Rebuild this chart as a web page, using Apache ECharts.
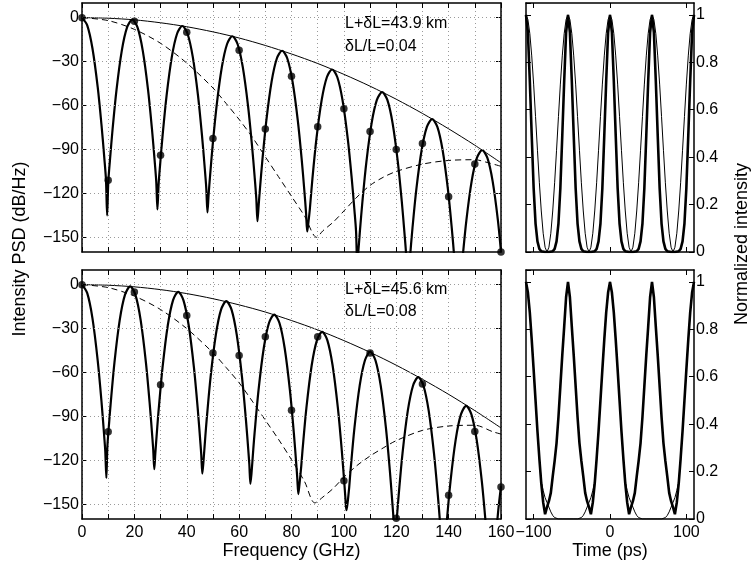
<!DOCTYPE html>
<html><head><meta charset="utf-8">
<script src="https://cdn.jsdelivr.net/npm/echarts@6/dist/echarts.min.js"></script>
<style>html,body{margin:0;padding:0;background:#fff}#c{width:751px;height:566px}</style>
</head><body><div id="c"></div>
<script>
// ---------------- data ----------------
const dbTicks = [-150, -120, -90, -60, -30, 0];
const timeTicks = [-100, 0, 100];

const dotFreq = [0,10,20,30,40,50,60,70,80,90,100,110,120,130,140,150,160];
const topDots = [0,-111,-2.4,-94,-10,-82.5,-22.3,-76,-40,-74.5,-62.2,-77.8,-90,-86,-122.3,-100,-160];
const bottomDots = [0,-100.5,-5,-68.3,-21.1,-46.7,-48.3,-35.6,-85.8,-35.6,-133.9,-46.6,-159.5,-67.8,-143.7,-100.3,-138.2];

const envFreq = [0,10,20,30,40,50,60,70,80,90,100,110,120,130,140,150,160];
const topEnvelope = [0,-0.4,-1.5,-3.5,-6.2,-9.7,-13.9,-19,-24.8,-31.3,-38.7,-46.8,-55.7,-65.4,-75.9,-87.1,-99.1];
const bottomEnvelope = [0,-0.4,-1.5,-3.4,-6.1,-9.6,-13.8,-18.7,-24.5,-30.9,-38.2,-46.2,-55,-64.6,-74.9,-86,-97.8];

const topDashed = [[0,0],[10,-2],[20,-8],[30,-17.5],[40,-31],[50,-48],[55,-58.5],[60,-69.5],[65,-81.5],[70,-95],[75,-108.5],[80,-122],[85,-135.5],[89.6,-150],[92,-145.5],[96,-139.5],[100,-132],[105,-122.5],[110,-114.5],[115,-109],[120,-105],[130,-100],[140,-97.5],[150,-97],[155,-99],[160,-101.5]];
const bottomDashed = [[0,0],[10,-2],[20,-7.8],[30,-17],[40,-30],[50,-46.5],[55,-56.5],[60,-67],[65,-79.5],[70,-92.5],[75,-105.5],[80,-119.5],[85,-134.5],[88.9,-149],[92,-145],[96,-139],[100,-131.5],[105,-123.5],[110,-117],[115,-111.5],[120,-106.5],[130,-99.5],[140,-96.5],[150,-96],[157,-100.5],[160,-102]];

const topSpectrum = [
[0,0],[2,-5.3],[4,-21.1],[6,-47.5],[7.5,-74.3],[8.5,-95.4],[9.15,-110.5],[9.6,-135],
[10.05,-111.9],[10.7,-96.8],[11.7,-75.7],[13.2,-48.9],[15.2,-22.5],[17.2,-6.7],[19.2,-1.4],[21.2,-6.7],[23.2,-22.5],[25.2,-48.9],[26.7,-75.7],[27.7,-96.8],[28.35,-111.9],[28.8,-131],
[29.25,-113.8],[29.8,-101.1],[30.8,-80],[32.3,-53.2],[34.3,-26.8],[36.3,-11],[38.3,-5.7],[40.3,-11],[42.3,-26.8],[44.3,-53.2],[45.8,-80],[46.8,-101.1],[47.45,-116.2],[47.9,-133],
[48.35,-120.8],[48.9,-108.1],[49.9,-87],[51.4,-60.2],[53.4,-33.8],[55.4,-18],[57.4,-12.7],[59.4,-18],[61.4,-33.8],[63.4,-60.2],[64.9,-87],[65.9,-108.1],[66.55,-123.2],[67,-139],
[67.45,-128.3],[67.9,-118],[68.9,-96.9],[70.4,-70.1],[72.4,-43.7],[74.4,-27.9],[76.4,-22.6],[78.4,-27.9],[80.4,-43.7],[82.4,-70.1],[83.9,-96.9],[84.9,-118],[85.55,-133.1],[86,-146],
[86.45,-140],[87,-130.8],[88,-109.7],[89.5,-82.9],[91.5,-56.5],[93.5,-40.7],[95.5,-35.4],[97.5,-40.7],[99.5,-56.5],[101.5,-82.9],[103,-109.7],[104,-130.8],[104.65,-145.9],[105.1,-168],
[105.55,-159],[106.1,-146.3],[107.1,-125.2],[108.6,-98.4],[110.6,-72],[112.6,-56.2],[114.6,-50.9],[116.6,-56.2],[118.6,-72],[120.6,-98.4],[122.1,-125.2],[123.1,-146.3],[123.75,-161.4],[124.2,-185],
[124.65,-177.4],[125.2,-164.7],[126.2,-143.6],[127.7,-116.8],[129.7,-90.4],[131.7,-74.6],[133.7,-69.3],[135.7,-74.6],[137.7,-90.4],[139.7,-116.8],[141.2,-143.6],[142.2,-164.7],[142.85,-179.8],[143.3,-200],
[143.75,-198.6],[144.3,-185.9],[145.3,-164.8],[146.8,-138],[148.8,-111.6],[150.8,-95.8],[152.8,-90.5],[154.8,-95.8],[156.8,-111.6],[158.8,-138],[160,-160]
];

const bottomSpectrum = [
[0,0],[2,-5.8],[4,-23],[6,-51.8],[7.5,-81],[8.5,-104],[8.9,-114.1],[9.3,-132],
[9.7,-110.2],[10.4,-93.4],[10.9,-82.2],[12.4,-53],[14.4,-24.2],[16.4,-7],[18.4,-1.2],[20.4,-7],[22.4,-24.2],[24.4,-53],[25.9,-82.2],[26.9,-105.2],[27.2,-112.7],[27.6,-126],
[28,-115.2],[28.75,-97.1],[29.25,-85.9],[30.75,-56.7],[32.75,-27.9],[34.75,-10.7],[36.75,-4.9],[38.75,-10.7],[40.75,-27.9],[42.75,-56.7],[44.25,-85.9],[45.25,-108.9],[45.55,-116.4],[45.95,-129],
[46.35,-121.5],[47.1,-103.5],[47.6,-92.3],[49.1,-63.1],[51.1,-34.3],[53.1,-17.1],[55.1,-11.3],[57.1,-17.1],[59.1,-34.3],[61.1,-63.1],[62.6,-92.3],[63.6,-115.3],[63.9,-122.8],[64.3,-136],
[64.7,-129.4],[65.4,-112.6],[65.9,-101.4],[67.4,-72.2],[69.4,-43.4],[71.4,-26.2],[73.4,-20.4],[75.4,-26.2],[77.4,-43.4],[79.4,-72.2],[80.9,-101.4],[81.9,-124.4],[82.2,-131.9],[82.6,-143],
[83,-137],[83.7,-124.4],[84.2,-113.2],[85.7,-84],[87.7,-55.2],[89.7,-38],[91.7,-32.2],[93.7,-38],[95.7,-55.2],[97.7,-84],[99.2,-113.2],[100.2,-136.2],[100.55,-145],[100.95,-154],
[101.35,-150],[102.05,-138],[102.55,-126.8],[104.05,-97.6],[106.05,-68.8],[108.05,-51.6],[110.05,-45.8],[112.05,-51.6],[114.05,-68.8],[116.05,-97.6],[117.55,-126.8],[118.55,-149.8],[118.9,-158.6],[119.3,-175],
[119.7,-172.2],[120.4,-155.4],[120.9,-144.2],[122.4,-115],[124.4,-86.2],[126.4,-69],[128.4,-63.2],[130.4,-69],[132.4,-86.2],[134.4,-115],[135.9,-144.2],[136.9,-167.2],[137.6,-190],
[138.2,-186.8],[139.2,-163.8],[140.7,-134.6],[142.7,-105.8],[144.7,-88.6],[146.7,-82.8],[148.7,-88.6],[150.7,-105.8],[152.7,-134.6],[154.2,-163.8],[155.2,-186.8],[155.9,-200],
[156.6,-203],[157.5,-182.5],[159,-153.3],[160,-137.5]
];

const timePs = [-110,-107.5,-105,-102.5,-100,-97.5,-95,-92.5,-90,-87.5,-85,-82.5,-80,-77.5,-75,-72.5,-70,-67.5,-65,-62.5,-60,-57.5,-55,-52.5,-50,-47.5,-45,-42.5,-40,-37.5,-35,-32.5,-30,-27.5,-25,-22.5,-20,-17.5,-15,-12.5,-10,-7.5,-5,-2.5,0,2.5,5,7.5,10,12.5,15,17.5,20,22.5,25,27.5,30,32.5,35,37.5,40,42.5,45,47.5,50,52.5,55,57.5,60,62.5,65,67.5,70,72.5,75,77.5,80,82.5,85,87.5,90,92.5,95,97.5,100,102.5,105,107.5,110];

const topPulseThick = [
1,.925,.72,.49,.27,.12,.045,.013,.003,0,0,0,0,0,.003,.013,.045,.12,.27,.49,.72,.925,
1,.925,.72,.49,.27,.12,.045,.013,.003,0,0,0,0,0,.003,.013,.045,.12,.27,.49,.72,.925,
1,.925,.72,.49,.27,.12,.045,.013,.003,0,0,0,0,0,.003,.013,.045,.12,.27,.49,.72,.925,
1,.925,.72,.49,.27,.12,.045,.013,.003,0,0,0,0,0,.003,.013,.045,.12,.27,.49,.72,.925,
1];
const topPulseThin = [
1,.98,.921,.827,.708,.571,.429,.292,.173,.079,.02,0,.02,.079,.173,.292,.429,.571,.708,.827,.921,.98,
1,.98,.921,.827,.708,.571,.429,.292,.173,.079,.02,0,.02,.079,.173,.292,.429,.571,.708,.827,.921,.98,
1,.98,.921,.827,.708,.571,.429,.292,.173,.079,.02,0,.02,.079,.173,.292,.429,.571,.708,.827,.921,.98,
1,.98,.921,.827,.708,.571,.429,.292,.173,.079,.02,0,.02,.079,.173,.292,.429,.571,.708,.827,.921,.98,
1];
const bottomPulseThick = [
1,.955,.87,.755,.63,.50,.37,.255,.15,.07,.02,.05,.075,.11,.18,.245,.32,.43,.56,.69,.81,.935,
1,.935,.81,.69,.56,.43,.32,.245,.18,.11,.075,.05,.02,.07,.15,.255,.37,.50,.63,.755,.87,.955,
1,.955,.87,.755,.63,.50,.37,.255,.15,.07,.02,.05,.075,.11,.18,.245,.32,.43,.56,.69,.81,.935,
1,.935,.81,.69,.56,.43,.32,.245,.18,.11,.075,.05,.02,.07,.15,.255,.37,.50,.63,.755,.87,.955,
1];
const bottomPulseThin = [
1,.955,.87,.755,.63,.50,.37,.255,.16,.12,.09,.07,.05,.03,.015,.006,.001,0,0,0,0,0,
0,0,0,0,0,0,.001,.006,.015,.03,.05,.07,.09,.12,.16,.255,.37,.50,.63,.755,.87,.955,
1,.955,.87,.755,.63,.50,.37,.255,.16,.12,.09,.07,.05,.03,.015,.006,.001,0,0,0,0,0,
0,0,0,0,0,0,.001,.006,.015,.03,.05,.07,.09,.12,.16,.255,.37,.50,.63,.755,.87,.955,
1];

const annotTop = ['L+\u03b4L=43.9 km', '\u03b4L/L=0.04'];
const annotBottom = ['L+\u03b4L=45.6 km', '\u03b4L/L=0.08'];

// ---------------- chart ----------------
const FONT = "'Liberation Sans', Arial, Helvetica, sans-serif";
const K = '#000';
const minus = v => (v < 0 ? '\u2212' + Math.abs(v) : String(v));
const axLine = {show: true, onZero: false, lineStyle: {color: K, width: 1.5}};
const tickStyle = {color: K, width: 1};
const lbl = (show, margin, extra) => Object.assign({show, margin, color: K, fontSize: 16, fontFamily: FONT}, extra || {});

function freqX(g, pos, labels) {
  return {gridIndex: g, type: 'value', position: pos, min: 0, max: 160, interval: 10,
    axisLine: axLine, axisTick: {show: true, inside: true, length: 5, lineStyle: tickStyle},
    axisLabel: lbl(labels, 6, {formatter: v => (v % 20 === 0 ? String(v) : '')}),
    splitLine: {show: pos === 'bottom', lineStyle: {color: '#9a9a9a', type: [1, 3], width: 1}}};
}
function dbY(g, pos, labels) {
  return {gridIndex: g, type: 'value', position: pos, min: -160, max: 10,
    axisLine: axLine, axisTick: {show: true, inside: true, length: 5, customValues: dbTicks, lineStyle: tickStyle},
    axisLabel: lbl(labels, 3, {customValues: dbTicks, formatter: minus}), splitLine: {show: false}};
}
function timeX(g, pos, labels) {
  return {gridIndex: g, type: 'value', position: pos, min: -110, max: 110,
    axisLine: axLine, axisTick: {show: true, inside: true, length: 5, customValues: timeTicks, lineStyle: tickStyle},
    axisLabel: lbl(labels, 6, {customValues: timeTicks, formatter: minus}), splitLine: {show: false}};
}
function normY(g, pos, labels) {
  return {gridIndex: g, type: 'value', position: pos, min: 0, max: 1.05, interval: 0.2,
    axisLine: axLine, axisTick: {show: true, inside: true, length: 5, lineStyle: tickStyle},
    axisLabel: lbl(labels, 2, {formatter: v => String(Math.round(v * 10) / 10)}), splitLine: {show: false}};
}

const gridBase = {containLabel: false, outerBoundsMode: 'none', show: false};
const grids = [
  Object.assign({left: 82, top: 3, width: 419, height: 249}, gridBase),
  Object.assign({left: 526, top: 3, width: 168, height: 249}, gridBase),
  Object.assign({left: 82, top: 270, width: 419, height: 249}, gridBase),
  Object.assign({left: 526, top: 270, width: 168, height: 249}, gridBase)
];

const xAxes = [freqX(0,'bottom',false), freqX(0,'top',false), timeX(1,'bottom',false), timeX(1,'top',false),
               freqX(2,'bottom',true), freqX(2,'top',false), timeX(3,'bottom',true), timeX(3,'top',false)];
const yAxes = [dbY(0,'left',true), dbY(0,'right',false), normY(1,'right',true), normY(1,'left',false),
               dbY(2,'left',true), dbY(2,'right',false), normY(3,'right',true), normY(3,'left',false)];

function specSeries(ax, spectrum, envelope, dashed, dots) {
  return [
    {type: 'line', xAxisIndex: ax, yAxisIndex: ax, data: [], silent: true, z: 1,
     markLine: {silent: true, symbol: 'none', label: {show: false}, animation: false,
       lineStyle: {color: '#9a9a9a', type: [1, 3], width: 1}, data: dbTicks.map(v => ({yAxis: v}))}},
    {type: 'line', xAxisIndex: ax, yAxisIndex: ax, z: 3, showSymbol: false, smooth: 0.3,
     data: envFreq.map((f, i) => [f, envelope[i]]), lineStyle: {color: K, width: 1}},
    {type: 'line', xAxisIndex: ax, yAxisIndex: ax, z: 3, showSymbol: false, smooth: 0.3,
     data: dashed, lineStyle: {color: K, width: 1, type: [6, 4]}},
    {type: 'line', xAxisIndex: ax, yAxisIndex: ax, z: 4, showSymbol: false, smooth: 0.3,
     data: spectrum, lineStyle: {color: K, width: 2.2}},
    {type: 'scatter', xAxisIndex: ax, yAxisIndex: ax, z: 5, clip: false, symbol: 'circle', symbolSize: 7.5,
     itemStyle: {color: K}, data: dotFreq.map((f, i) => [f, dots[i]])}
  ];
}
function pulseSeries(ax, thin, thick) {
  return [
    {type: 'line', xAxisIndex: ax, yAxisIndex: ax, z: 3, showSymbol: false,
     data: timePs.map((t, i) => [t, thin[i]]), lineStyle: {color: K, width: 1}},
    {type: 'line', xAxisIndex: ax, yAxisIndex: ax, z: 4, showSymbol: false,
     data: timePs.map((t, i) => [t, thick[i]]), lineStyle: {color: K, width: 2.6}}
  ];
}

const txt = (x, y, text, size, rot, align) => ({type: 'text', x, y, rotation: rot || 0, z: 10,
  style: {text, fill: K, font: size + 'px ' + FONT, align: align || 'center', verticalAlign: 'middle'}});

const option = {
  animation: false,
  backgroundColor: '#fff',
  grid: grids,
  xAxis: xAxes,
  yAxis: yAxes,
  series: [].concat(
    specSeries(0, topSpectrum, topEnvelope, topDashed, topDots),
    pulseSeries(2, topPulseThin, topPulseThick),
    specSeries(4, bottomSpectrum, bottomEnvelope, bottomDashed, bottomDots),
    pulseSeries(6, bottomPulseThin, bottomPulseThick)
  ),
  graphic: [
    txt(20, 249, 'Intensity PSD (dB/Hz)', 18, Math.PI / 2),
    txt(742.5, 244, 'Normalized intensity', 18, Math.PI / 2),
    txt(291.5, 551, 'Frequency (GHz)', 18),
    txt(610, 551, 'Time (ps)', 18),
    txt(345, 24, annotTop[0], 16, 0, 'left'),
    txt(345, 46.5, annotTop[1], 16, 0, 'left'),
    txt(345, 289.5, annotBottom[0], 16, 0, 'left'),
    txt(345, 312, annotBottom[1], 16, 0, 'left')
  ]
};

const chart = echarts.init(document.getElementById('c'), null, {renderer: 'canvas'});
chart.setOption(option);
</script>
</body></html>
